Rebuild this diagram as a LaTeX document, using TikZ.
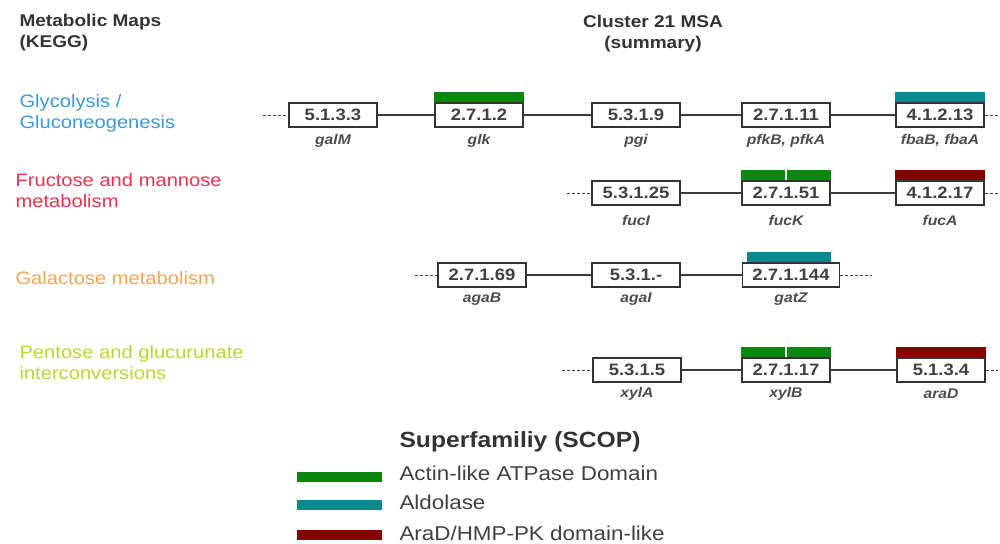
\documentclass[tikz,border=0pt]{standalone}
\usepackage{fontspec}
\setmainfont[FakeStretch=1.12]{Liberation Sans}
\usetikzlibrary{calc}
\definecolor{kblue}{RGB}{58,154,217}
\definecolor{kred}{RGB}{232,52,80}
\definecolor{korange}{RGB}{245,165,85}
\definecolor{kyellow}{RGB}{185,214,50}
\definecolor{dgreen}{RGB}{10,135,15}
\definecolor{dteal}{RGB}{15,135,140}
\definecolor{dred}{RGB}{135,0,0}
\definecolor{lineg}{RGB}{60,60,60}
\tikzset{
  ecbox/.style={draw=black!80, line width=1.3pt, fill=white, minimum width=88pt, minimum height=24pt, inner sep=0pt, font=\fontsize{16.5}{18}\selectfont\bfseries, text=black!75},
  genelab/.style={font=\fontsize{14}{16}\selectfont\bfseries\itshape, text=black!70},
  link/.style={draw=lineg, line width=1.3pt},
  dlink/.style={draw=lineg, line width=1pt, dash pattern=on 3pt off 2pt},
  pathlab/.style={anchor=west, align=left, font=\fontsize{18}{21}\selectfont},
  headlab/.style={font=\fontsize{17}{21}\selectfont\bfseries, text=black!80},
  legtxt/.style={anchor=west, font=\fontsize{20}{22}\selectfont, text=black!75},
}
\newcommand{\dombar}[2]{\fill[#2] ($(#1.north west)+(0,-10)$) rectangle (#1.north east);}
\newcommand{\splitbar}[2]{\fill[#2] ($(#1.north west)+(0,-10)$) rectangle ($(#1.north)+(-0.8,0)$);
  \fill[#2] ($(#1.north)+(0.8,-10)$) rectangle (#1.north east);}
\begin{document}
\begin{tikzpicture}[x=1pt,y=-1pt]
\useasboundingbox (0,0) rectangle (1000,543);
% headers
\node[headlab, anchor=west, align=left] (hk) at (16,33) {Metabolic Maps\\(KEGG)};
\node[headlab, align=center] (hc) at (653,34) {Cluster 21 MSA\\(summary)};
% pathway labels
\node[pathlab, text=kblue] (p1) at (16,113) {Glycolysis /\\Gluconeogenesis};
\node[pathlab, text=kred] (p2) at (12,191) {Fructose and mannose\\metabolism};
\node[pathlab, text=korange] (p3) at (12,278) {Galactose metabolism};
\node[pathlab, text=kyellow] (p4) at (16,363) {Pentose and glucurunate\\interconversions};

% Row 1
\coordinate (r1l) at (263,115);
\coordinate (r1r) at (998,115);
\node[ecbox] (a1) at (333,115) {5.1.3.3};
\node[ecbox] (a2) at (479,115) {2.7.1.2};
\node[ecbox] (a3) at (636,115) {5.3.1.9};
\node[ecbox] (a4) at (786,115) {2.7.1.11};
\node[ecbox] (a5) at (940,115) {4.1.2.13};
\draw[dlink] (r1l) -- (a1.west);
\draw[link] (a1) -- (a2);
\draw[link] (a2) -- (a3);
\draw[link] (a3) -- (a4);
\draw[link] (a4) -- (a5);
\draw[dlink] (a5.east) -- (r1r);
\dombar{a2}{dgreen}
\dombar{a5}{dteal}
\node[genelab] (g1) at (333,141) {galM};
\node[genelab] (g2) at (479,141) {glk};
\node[genelab] (g3) at (636,141) {pgi};
\node[genelab] (g4) at (786,141) {pfkB, pfkA};
\node[genelab] (g5) at (940,141) {fbaB, fbaA};

% Row 2
\coordinate (r2l) at (567,193);
\coordinate (r2r) at (998,193);
\node[ecbox] (b3) at (636,193) {5.3.1.25};
\node[ecbox] (b4) at (786,193) {2.7.1.51};
\node[ecbox] (b5) at (940,193) {4.1.2.17};
\draw[dlink] (r2l) -- (b3.west);
\draw[link] (b3) -- (b4);
\draw[link] (b4) -- (b5);
\draw[dlink] (b5.east) -- (r2r);
\splitbar{b4}{dgreen}
\dombar{b5}{dred}
\node[genelab] (h3) at (636,220) {fucI};
\node[genelab] (h4) at (786,220) {fucK};
\node[genelab] (h5) at (940,220) {fucA};

% Row 3
\coordinate (r3l) at (415,275);
\coordinate (r3r) at (872,275);
\node[ecbox] (c2) at (482,275) {2.7.1.69};
\node[ecbox] (c3) at (636,275) {5.3.1.-};
\node[ecbox, minimum width=97pt] (c4) at (791,275) {2.7.1.144};
\draw[dlink] (r3l) -- (c2.west);
\draw[link] (c2) -- (c3);
\draw[link] (c3) -- (c4);
\draw[dlink] (c4.east) -- (r3r);
\fill[dteal] ($(c4.north west)+(5,-10)$) rectangle ($(c4.north east)+(-9,0)$);
\node[genelab] (k2) at (482,299) {agaB};
\node[genelab] (k3) at (636,299) {agaI};
\node[genelab] (k4) at (791,299) {gatZ};

% Row 4
\coordinate (r4l) at (562,370);
\coordinate (r4r) at (998,370);
\node[ecbox] (d3) at (637,370) {5.3.1.5};
\node[ecbox] (d4) at (786,370) {2.7.1.17};
\node[ecbox] (d5) at (941,370) {5.1.3.4};
\draw[dlink] (r4l) -- (d3.west);
\draw[link] (d3) -- (d4);
\draw[link] (d4) -- (d5);
\draw[dlink] (d5.east) -- (r4r);
\splitbar{d4}{dgreen}
\dombar{d5}{dred}
\node[genelab] (m3) at (637,394) {xylA};
\node[genelab] (m4) at (786,394) {xylB};
\node[genelab] (m5) at (941,394) {araD};

% Legend
\node[anchor=west, font=\fontsize{22}{24}\selectfont\bfseries, text=black!80] (lt) at (396,442) {Superfamiliy (SCOP)};
\coordinate (lg1) at (297,477); \coordinate (lg1e) at (382,477);
\coordinate (lg2) at (297,505); \coordinate (lg2e) at (382,505);
\coordinate (lg3) at (297,535); \coordinate (lg3e) at (382,535);
\draw[dgreen, line width=10pt] (lg1) -- (lg1e);
\draw[dteal, line width=10pt] (lg2) -- (lg2e);
\draw[dred, line width=10pt] (lg3) -- (lg3e);
\node[legtxt] (l1) at (396,473) {Actin-like ATPase Domain};
\node[legtxt] (l2) at (396,502) {Aldolase};
\node[legtxt] (l3) at (396,533) {AraD/HMP-PK domain-like};
\end{tikzpicture}
\end{document}
